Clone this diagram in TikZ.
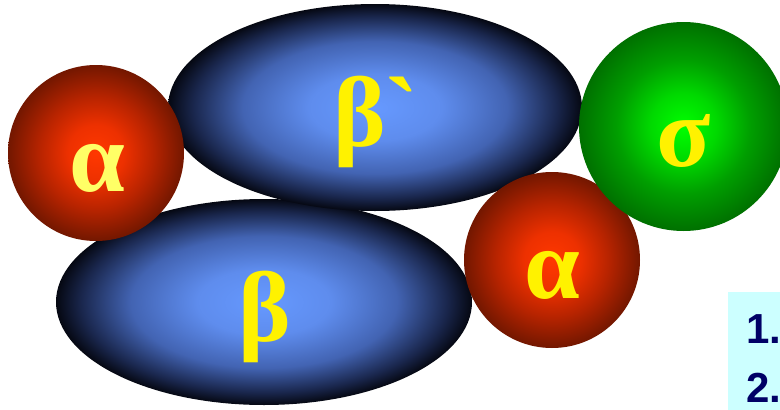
\documentclass[tikz,border=0pt]{standalone}
\usepackage{fontspec}
\setmainfont{Liberation Serif}
\newfontfamily\numfont{Liberation Sans}
\newfontfamily\greekfont{Liberation Serif}
\usetikzlibrary{shapes.geometric}
\definecolor{navytext}{HTML}{000066}
\definecolor{cyanbg}{HTML}{CCFFFF}
\definecolor{paleyellow}{HTML}{FFFF66}
\pgfdeclareradialshading{blueball}{\pgfpoint{0bp}{0bp}}{rgb(0bp)=(0.40,0.60,1); rgb(8bp)=(0.37,0.55,0.93); rgb(16bp)=(0.26,0.39,0.70); rgb(22bp)=(0.10,0.15,0.30); rgb(25bp)=(0.02,0.03,0.07); rgb(50bp)=(0.02,0.03,0.07)}
\pgfdeclareradialshading{redball}{\pgfpoint{0bp}{0bp}}{rgb(0bp)=(1,0.22,0); rgb(8bp)=(0.93,0.19,0); rgb(16bp)=(0.72,0.14,0); rgb(25bp)=(0.45,0.09,0); rgb(50bp)=(0.45,0.09,0)}
\pgfdeclareradialshading{greenball}{\pgfpoint{0bp}{0bp}}{rgb(0bp)=(0,1,0); rgb(8bp)=(0,0.85,0); rgb(16bp)=(0,0.62,0); rgb(25bp)=(0,0.44,0); rgb(50bp)=(0,0.44,0)}
\tikzset{
  blob/.style={inner sep=0pt, outer sep=0pt},
  greek/.style={font=\greekfont\bfseries\fontsize{100}{100}\selectfont, text=yellow, inner sep=0pt},
  num/.style={font=\numfont\bfseries\fontsize{42}{42}\selectfont, text=navytext, inner sep=0pt},
}
\begin{document}
\begin{tikzpicture}[x=1pt,y=-1pt]
\useasboundingbox (0,0) rectangle (780,410);
\clip (0,0) rectangle (780,410);
\node[blob, ellipse, minimum width=416pt, minimum height=206pt, shading=blueball] (lower) at (264,302) {};
\node[blob, ellipse, minimum width=414pt, minimum height=207pt, shading=blueball] (upper) at (375,107.5) {};
\node[blob, circle, minimum size=176pt, shading=redball] (redL) at (96,153) {};
\node[blob, circle, minimum size=176pt, shading=redball] (redR) at (552,260) {};
\node[blob, circle, minimum size=209pt, shading=greenball] (green) at (683.5,126.5) {};
\node[blob, fill=cyanbg, anchor=north west, minimum width=60pt, minimum height=130pt] (box) at (728,292) {};
\node[greek, text=paleyellow, anchor=base] (ta1) at (97,191) {α};
\node[greek, anchor=base] (ta2) at (552,298) {α};
\node[greek, anchor=base] (tb) at (265,341) {β};
\node[greek, anchor=base west] (tbp) at (333,146) {β`};
\node[greek, anchor=base] (ts) at (684,166) {σ};
\node[num, anchor=base west] (n1) at (746,343) {1.};
\node[num, anchor=base west] (n2) at (746,402) {2.};
\end{tikzpicture}
\end{document}
